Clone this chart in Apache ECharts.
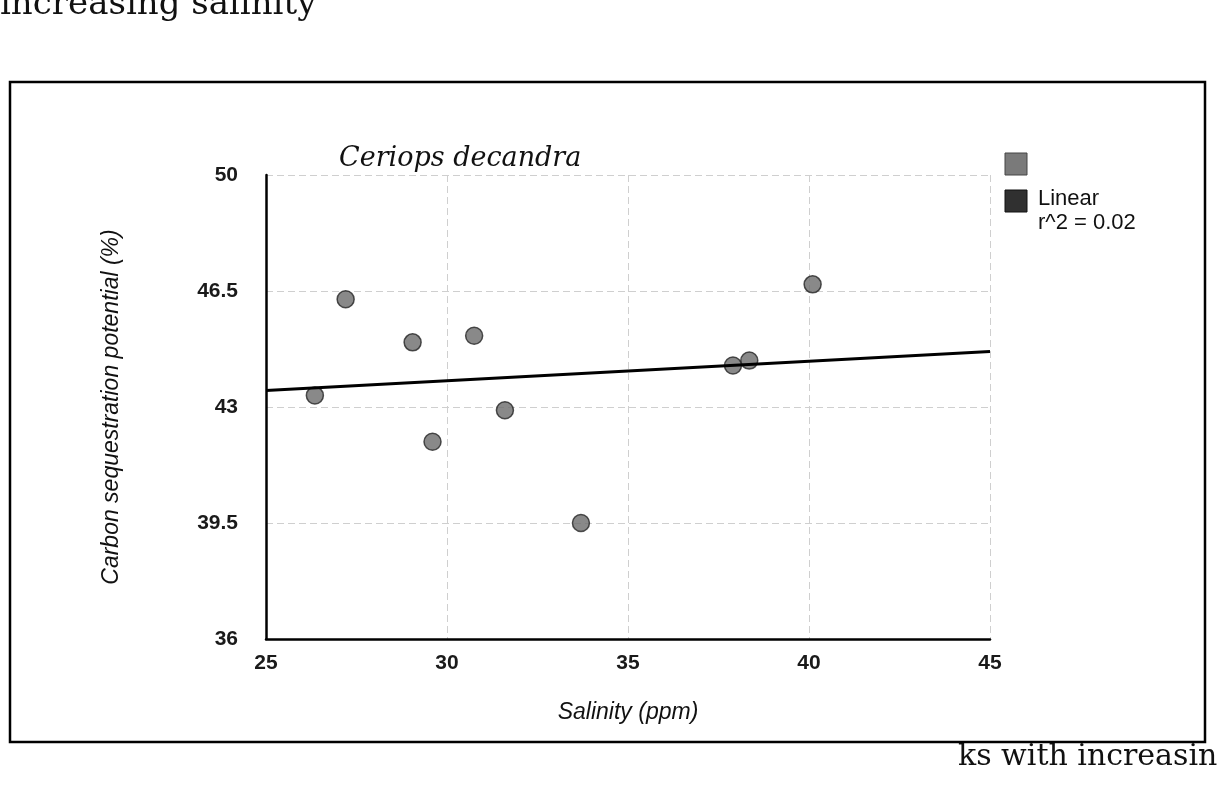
<!DOCTYPE html>
<html>
<head>
<meta charset="utf-8">
<title>Ceriops decandra</title>
<script src="https://cdn.jsdelivr.net/npm/echarts@6/dist/echarts.min.js"></script>
<style>
  html, body { margin: 0; padding: 0; background: #fff; }
  #chart { width: 1218px; height: 791px; }
</style>
</head>
<body>
<div id="chart"></div>
<script>
// Salinity (ppm) of each sampling site
const salinity = [26.35, 27.2, 29.05, 29.6, 30.75, 31.6, 33.7, 37.9, 38.35, 40.1];
// Carbon sequestration potential (%) at the same sites
const carbonPotential = [43.35, 46.25, 44.95, 41.95, 45.15, 42.9, 39.5, 44.25, 44.4, 46.7];
// Axis ticks
const xTicks = [25, 30, 35, 40, 45];
const yTicks = [36, 39.5, 43, 46.5, 50];

// Least-squares fit for the trend line and its r^2
const n = salinity.length;
const mx = salinity.reduce((a, b) => a + b, 0) / n;
const my = carbonPotential.reduce((a, b) => a + b, 0) / n;
let sxy = 0, sxx = 0, syy = 0;
for (let i = 0; i < n; i++) {
  const dx = salinity[i] - mx, dy = carbonPotential[i] - my;
  sxy += dx * dy; sxx += dx * dx; syy += dy * dy;
}
const slope = sxy / sxx;
const intercept = my - slope * mx;
const r2 = (sxy * sxy) / (sxx * syy);
const xMin = xTicks[0], xMax = xTicks[xTicks.length - 1];
const fitLine = [[xMin, intercept + slope * xMin], [xMax, intercept + slope * xMax]];

const points = salinity.map((x, i) => [x, carbonPotential[i]]);

const chart = echarts.init(document.getElementById('chart'), null, { renderer: 'canvas' });
const sans = 'Liberation Sans, Arial, sans-serif';

chart.setOption({
  backgroundColor: '#ffffff',
  animation: false,
  title: {
    text: 'Ceriops decandra',
    left: 334, top: 140,
    textStyle: { fontFamily: 'DejaVu Serif', fontStyle: 'italic', fontWeight: 'normal', fontSize: 27, color: '#111' }
  },
  grid: { left: 266, right: 228, top: 175, bottom: 152 },
  xAxis: {
    type: 'value',
    min: xMin, max: xMax, interval: 5,
    name: 'Salinity (ppm)',
    nameLocation: 'middle', nameGap: 62,
    nameTextStyle: { fontFamily: sans, fontStyle: 'italic', fontSize: 23, color: '#111' },
    axisLine: { show: true, lineStyle: { color: '#000', width: 2.5 } },
    axisTick: { show: false },
    axisLabel: { margin: 14, fontFamily: sans, fontWeight: 'bold', fontSize: 21, color: '#1a1a1a' },
    splitLine: { show: true, lineStyle: { color: '#cfcfcf', width: 1, type: [7, 4] } }
  },
  yAxis: {
    type: 'value',
    min: yTicks[0], max: yTicks[yTicks.length - 1], interval: 3.5,
    name: 'Carbon sequestration potential (%)',
    nameLocation: 'middle', nameGap: 143, nameRotate: 90,
    nameTextStyle: { fontFamily: sans, fontStyle: 'italic', fontSize: 23, color: '#111' },
    axisLine: { show: true, lineStyle: { color: '#000', width: 2.5 } },
    axisTick: { show: false },
    axisLabel: { margin: 28, fontFamily: sans, fontWeight: 'bold', fontSize: 21, color: '#1a1a1a' },
    splitLine: { show: true, lineStyle: { color: '#cfcfcf', width: 1, type: [7, 4] } }
  },
  series: [
    {
      name: 'Data',
      type: 'scatter',
      data: points,
      symbol: 'circle',
      symbolSize: 17,
      itemStyle: { color: '#6c6c6c', borderColor: '#262626', borderWidth: 1.5 },
      z: 3
    },
    {
      name: 'Linear',
      type: 'line',
      data: fitLine,
      showSymbol: false,
      lineStyle: { color: '#000', width: 3 },
      z: 4
    }
  ],
  graphic: [
    // surrounding figure frame
    { type: 'rect', shape: { x: 10, y: 82, width: 1195, height: 660 },
      style: { fill: 'none', stroke: '#000', lineWidth: 2.5 }, z: 1 },
    // legend
    { type: 'rect', shape: { x: 1005, y: 153, width: 22, height: 22 },
      style: { fill: '#7a7a7a', stroke: '#444', lineWidth: 1 } },
    { type: 'rect', shape: { x: 1005, y: 190, width: 22, height: 22 },
      style: { fill: '#303030', stroke: '#111', lineWidth: 1 } },
    { type: 'text', left: 1038, top: 188,
      style: { text: 'Linear', font: '22px ' + sans, fill: '#111' } },
    { type: 'text', left: 1038, top: 212,
      style: { text: 'r^2 = ' + r2.toFixed(2), font: '22px ' + sans, fill: '#111' } },
    // running text of the page around the figure
    { type: 'text', left: 0, top: -12,
      style: { text: 'increasing salinity', font: '34px DejaVu Serif, serif', fill: '#111' } },
    { type: 'text', left: 958, top: 742,
      style: { text: 'ks with increasing', font: '30px DejaVu Serif, serif', fill: '#111' } }
  ]
});
</script>
</body>
</html>
